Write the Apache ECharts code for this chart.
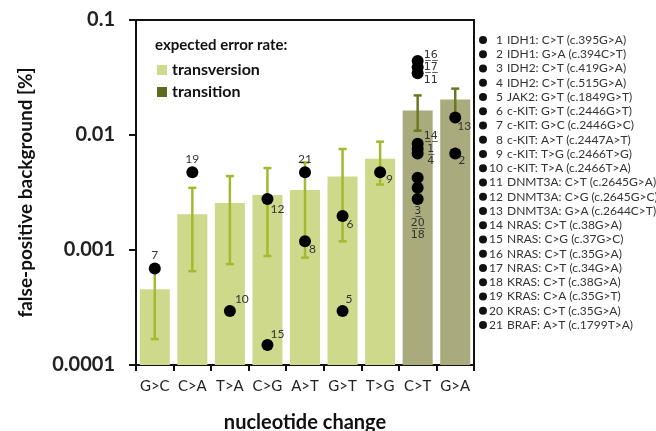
<!DOCTYPE html>
<html>
<head>
<meta charset="utf-8">
<script src="https://cdn.jsdelivr.net/npm/echarts@6/dist/echarts.min.js"></script>
<style>html,body{margin:0;padding:0;background:#fff}#c{width:656px;height:431px}</style>
</head>
<body>
<div id="c"></div>
<script>
// ---- data ----
const categories = ['G>C','C>A','T>A','C>G','A>T','G>T','T>G','C>T','G>A'];
const barType = ['transversion','transversion','transversion','transversion','transversion','transversion','transversion','transition','transition'];
const barValues = [0.000456, 0.00205, 0.00256, 0.00301, 0.00333, 0.00435, 0.00622, 0.0163, 0.0204];
const errLow  = [0.000168, 0.000655, 0.000754, 0.000887, 0.000858, 0.00119, 0.00371, 0.0109, 0.0142];
const errHigh = [0.00068, 0.00347, 0.00439, 0.00516, 0.00577, 0.00755, 0.00875, 0.0221, 0.0253];

const mutationIds      = [7, 19, 10, 12, 15, 21, 8, 6, 5, 9, 16, 17, 11, 14, 1, 4, 3, 20, 18, 13, 2];
const mutationCategory = ['G>C','C>A','T>A','C>G','C>G','A>T','A>T','G>T','G>T','T>G','C>T','C>T','C>T','C>T','C>T','C>T','C>T','C>T','C>T','G>A','G>A'];
const mutationValues   = [0.00069, 0.00475, 0.000295, 0.00278, 0.000149, 0.00475, 0.00119, 0.00198, 0.000295, 0.00475,
                          0.0439, 0.0389, 0.0344, 0.0084, 0.0076, 0.0069, 0.00424, 0.00347, 0.00278, 0.0142, 0.0069];

const mutationNames = [
  'IDH1: C>T (c.395G>A)', 'IDH1: G>A (c.394C>T)', 'IDH2: C>T (c.419G>A)', 'IDH2: C>T (c.515G>A)',
  'JAK2: G>T (c.1849G>T)', 'c-KIT: G>T (c.2446G>T)', 'c-KIT: G>C (c.2446G>C)', 'c-KIT: A>T (c.2447A>T)',
  'c-KIT: T>G (c.2466T>G)', 'c-KIT: T>A (c.2466T>A)', 'DNMT3A: C>T (c.2645G>A)', 'DNMT3A: C>G (c.2645G>C)',
  'DNMT3A: G>A (c.2644C>T)', 'NRAS: C>T (c.38G>A)', 'NRAS: C>G (c.37G>C)', 'NRAS: C>T (c.35G>A)',
  'NRAS: C>T (c.34G>A)', 'KRAS: C>T (c.38G>A)', 'KRAS: C>A (c.35G>T)', 'KRAS: C>T (c.35G>A)',
  'BRAF: A>T (c.1799T>A)'
];
const yTickLabels = ['0.0001', '0.001', '0.01', '0.1'];

// ---- styles ----
const FONT = 'Lato';
const colTransv = '#cfd98b', colTransit = '#a9ab7d', colTransitLegend = '#5b6a1f';
const errColTransv = '#a4b92f', errColTransit = '#6b7820';
const Y_MIN = 0.0001, Y_MAX = 0.1;

const U = s => s.split('').map(ch => ch + '\u0332').join('');
const groupFont = 'DejaVu Sans';
// label placement per mutation id (style only)
const labelStyle = {
  7:  {position: 'top', distance: 1},
  19: {position: 'top', distance: 1},
  21: {position: 'top', distance: 1},
  10: {position: 'right', distance: 0, offset: [-1, -12]},
  15: {position: 'right', distance: 0, offset: [-3, -11]},
  5:  {position: 'right', distance: 0, offset: [-3, -12]},
  12: {position: 'right', distance: 0, offset: [-3, 10]},
  8:  {position: 'right', distance: 0, offset: [-2, 8]},
  6:  {position: 'right', distance: 0, offset: [-2, 8]},
  9:  {position: 'right', distance: 0, offset: [0, 7]},
  13: {position: 'right', distance: 0, offset: [-4, 9]},
  2:  {position: 'right', distance: 0, offset: [-3, 7]},
  17: {position: 'right', distance: 0, align: 'center', offset: [7, 0], lineHeight: 12.5, fontSize: 11, fontFamily: groupFont, text: U('16') + '\n' + U('17') + '\n11'},
  1:  {position: 'right', distance: 0, align: 'center', offset: [7, 0], lineHeight: 12.5, fontSize: 11, fontFamily: groupFont, text: U('14') + '\n' + U('1') + '\n4'},
  18: {position: 'bottom', distance: 0, lineHeight: 12, fontSize: 11, fontFamily: groupFont, text: U('3') + '\n' + U('20') + '\n18'},
  16: null, 11: null, 14: null, 4: null, 3: null, 20: null
};

const scatterData = mutationIds.map((id, i) => {
  const ls = labelStyle[id];
  const item = {value: [mutationCategory[i], mutationValues[i]], id: id};
  if (ls === null) {
    item.label = {show: false};
  } else {
    const lab = Object.assign({show: true, color: '#333', fontSize: 12, fontFamily: FONT}, ls);
    const txt = ls.text || String(id);
    delete lab.text;
    lab.formatter = () => txt;
    item.label = lab;
  }
  return item;
});

const transvData = barValues.map((v, i) => [i, v]).filter((d, i) => barType[i] === 'transversion');
const transitData = barValues.map((v, i) => [i, v]).filter((d, i) => barType[i] === 'transition');
const errData = categories.map((c, i) => [i, errLow[i], errHigh[i]]);

function barRender(params, api) {
  const i = api.value(0);
  const top = api.coord([i, api.value(1)]);
  const base = api.coord([i, Y_MIN]);
  const w = api.size([1, 0])[0] * 0.8;
  return {
    type: 'rect',
    shape: {x: top[0] - w / 2, y: top[1], width: w, height: base[1] - top[1]},
    style: {fill: api.visual('color')}
  };
}

// right-hand list
const listGraphics = [];
mutationNames.forEach((name, i) => {
  const y = 40 + i * 14.25;
  listGraphics.push({type: 'circle', shape: {cx: 483, cy: y, r: 4}, style: {fill: '#111'}});
  listGraphics.push({type: 'text', x: 503, y: y, style: {text: String(i + 1), align: 'right', verticalAlign: 'middle', fill: '#333', font: '12px ' + FONT}});
  listGraphics.push({type: 'text', x: 507, y: y, style: {text: name, align: 'left', verticalAlign: 'middle', fill: '#333', font: '12px ' + FONT}});
});

const chart = echarts.init(document.getElementById('c'), null, {renderer: 'canvas'});
chart.setOption({
  animation: false,
  textStyle: {fontFamily: FONT},
  title: {
    text: 'expected error rate:', left: 150, top: 33,
    textStyle: {fontSize: 15, fontWeight: 'bold', color: '#111', fontFamily: FONT}
  },
  legend: {
    left: 152, top: 57, orient: 'vertical', itemWidth: 10, itemHeight: 10, itemGap: 6,
    icon: 'rect',
    textStyle: {fontSize: 16, fontWeight: 'bold', color: '#111', fontFamily: FONT},
    data: [
      {name: 'transversion', itemStyle: {color: colTransv}},
      {name: 'transition', itemStyle: {color: colTransitLegend}}
    ],
    selectedMode: false
  },
  grid: {left: 136, right: 182, top: 20, bottom: 66, show: true, borderColor: '#111', borderWidth: 2,
         backgroundColor: 'transparent', outerBoundsMode: 'none', containLabel: false},
  xAxis: {
    type: 'category', data: categories,
    axisLine: {lineStyle: {color: '#111', width: 2}},
    axisTick: {show: true, length: 6, lineStyle: {color: '#111', width: 2}},
    axisLabel: {fontSize: 15, color: '#222', margin: 14, interval: 0, fontFamily: FONT},
    name: 'nucleotide change', nameLocation: 'middle', nameGap: 48,
    nameTextStyle: {fontSize: 20, fontWeight: 'bold', color: '#111', fontFamily: FONT}
  },
  yAxis: {
    type: 'log', logBase: 10, min: Y_MIN, max: Y_MAX,
    axisLine: {show: true, lineStyle: {color: '#111', width: 2}},
    axisTick: {show: true, length: 7, lineStyle: {color: '#111', width: 2}},
    splitLine: {show: false},
    axisLabel: {
      fontSize: 20, fontWeight: 'bold', color: '#222', margin: 21, fontFamily: FONT,
      formatter: v => yTickLabels[Math.round(Math.log10(v)) + 4]
    },
    name: 'false-positive background [%]', nameLocation: 'middle', nameGap: 101, nameRotate: 90,
    nameTextStyle: {fontSize: 19, fontWeight: 'bold', color: '#111', fontFamily: FONT}
  },
  series: [
    {name: 'transversion', type: 'custom', data: transvData, renderItem: barRender, itemStyle: {color: colTransv}, z: 1},
    {name: 'transition', type: 'custom', data: transitData, renderItem: barRender, itemStyle: {color: colTransit}, z: 1},
    {
      name: 'error', type: 'custom', data: errData, z: 3,
      renderItem: (params, api) => {
        const i = api.value(0);
        const lo = api.coord([i, api.value(1)]);
        const hi = api.coord([i, api.value(2)]);
        const c = barType[i] === 'transition' ? errColTransit : errColTransv;
        const w = 4;
        return {type: 'group', children: [
          {type: 'line', shape: {x1: lo[0], y1: lo[1], x2: hi[0], y2: hi[1]}, style: {stroke: c, lineWidth: 2.5}},
          {type: 'line', shape: {x1: lo[0] - w, y1: lo[1], x2: lo[0] + w, y2: lo[1]}, style: {stroke: c, lineWidth: 2.5}},
          {type: 'line', shape: {x1: hi[0] - w, y1: hi[1], x2: hi[0] + w, y2: hi[1]}, style: {stroke: c, lineWidth: 2.5}}
        ]};
      }
    },
    {
      name: 'mutations', type: 'scatter', data: scatterData, symbol: 'circle', symbolSize: 12, z: 5,
      itemStyle: {color: '#000', opacity: 1}
    }
  ],
  graphic: listGraphics
});
</script>
</body>
</html>
